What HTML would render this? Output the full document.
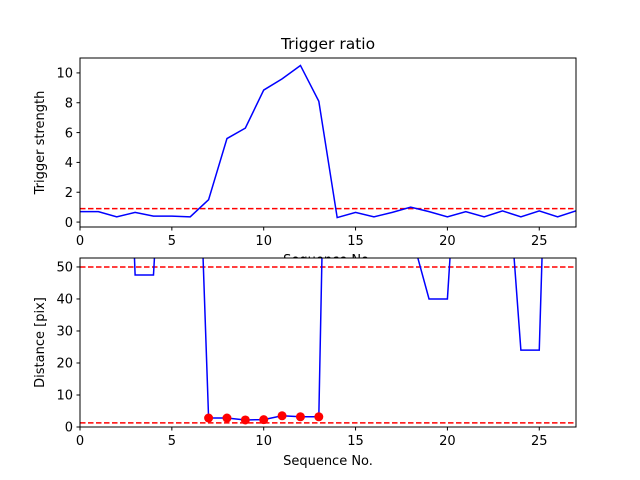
<!DOCTYPE html>
<html><head><meta charset="utf-8"><style>
body{margin:0;background:#fff}
svg{display:block;font-family:"DejaVu Sans","Liberation Sans",sans-serif}
</style></head><body>
<svg id="c" width="640" height="480"></svg>
<script>
const seqTop = [0,1,2,3,4,5,6,7,8,9,10,11,12,13,14,15,16,17,18,19,20,21,22,23,24,25,26,27];
const strength = [0.7,0.7,0.35,0.65,0.4,0.4,0.35,1.5,5.6,6.3,8.85,9.6,10.5,8.1,0.3,0.65,0.35,0.65,1.0,0.7,0.35,0.7,0.35,0.75,0.35,0.75,0.35,0.75];
const distance = [120,120,200,47.5,47.5,150,169,2.8,2.8,2.2,2.3,3.5,3.2,3.2,295,200,200,150,61,40,40,131,120,102,24,24,216,200];
const dotSeq = [7,8,9,10,11,12,13];
const dotVal = [2.8,2.8,2.2,2.3,3.5,3.2,3.2];
const topTicks = [0,2,4,6,8,10];
const botTicks = [0,10,20,30,40,50];
const xTicks = [0,5,10,15,20,25];
const topThreshold = 0.9;
const botThresholds = [50,1.3];

const NS="http://www.w3.org/2000/svg";
const svg=document.getElementById('c');
function el(t,a,p){const e=document.createElementNS(NS,t);for(const k in a)e.setAttribute(k,a[k]);(p||svg).appendChild(e);return e;}
const L=80,R=576;
const xs=v=>L+(v-0)/(27-0)*(R-L);

function panel(name,top,bot,ymin,ymax,yt,ylabel,drawFn,xlOff){
  const ys=v=>bot-(v-ymin)/(ymax-ymin)*(bot-top);
  const g=el('g',{});
  
  
  el('rect',{x:L,y:top,width:R-L,height:bot-top,fill:'#fff'},g);
  const cid='clip-'+name;
  const cp=el('clipPath',{id:cid},g);el('rect',{x:L,y:top,width:R-L,height:bot-top},cp);
  const pg=el('g',{'clip-path':'url(#'+cid+')'},g);
  drawFn(pg,ys);
  el('rect',{x:L,y:top,width:R-L,height:bot-top,fill:'none',stroke:'#000','stroke-width':1},g);
  xTicks.forEach(t=>{const x=xs(t);el('line',{x1:x,x2:x,y1:bot,y2:bot+3.5,stroke:'#000'},g);
    const tx=el('text',{x:x,y:bot+18,'font-size':13,'text-anchor':'middle'},g);tx.textContent=t;
    });
  yt.forEach(t=>{const y=ys(t);el('line',{x1:L-3.5,x2:L,y1:y,y2:y,stroke:'#000'},g);
    const tx=el('text',{x:L-7,y:y+4.7,'font-size':13,'text-anchor':'end'},g);tx.textContent=t;
    });
  const yl=el('text',{x:0,y:0,'font-size':13,'text-anchor':'middle',transform:`translate(44,${(top+bot)/2}) rotate(-90)`},g);
  yl.textContent=ylabel;
  const xl=el('text',{x:(L+R)/2,y:bot+xlOff,'font-size':13,'text-anchor':'middle'},g);
  xl.textContent='Sequence No.';
}

const title=el('text',{x:328,y:49,'font-size':15.5,'text-anchor':'middle'});
title.textContent='Trigger ratio';



panel('top',58,227,-0.33,11.0,topTicks,'Trigger strength',(g,ys)=>{
  const y=ys(topThreshold);
  const th=el('line',{x1:L,x2:R,y1:y,y2:y,stroke:'#f00','stroke-width':1.5,'stroke-dasharray':'5.5,2.5'},g);
  
  const ln=el('polyline',{points:seqTop.map((s,i)=>xs(s)+','+ys(strength[i])).join(' '),fill:'none',stroke:'#00f','stroke-width':1.5},g);
  
},37);
panel('bottom',258,427,0,52.8,botTicks,'Distance [pix]',(g,ys)=>{
  botThresholds.forEach(v=>{const y=ys(v);
    const th=el('line',{x1:L,x2:R,y1:y,y2:y,stroke:'#f00','stroke-width':1.5,'stroke-dasharray':'5.5,2.5'},g);
    });
  const ln=el('polyline',{points:seqTop.map((s,i)=>xs(s)+','+ys(distance[i])).join(' '),fill:'none',stroke:'#00f','stroke-width':1.5},g);
  
  dotSeq.forEach((s,i)=>{const c=el('circle',{cx:xs(s),cy:ys(dotVal[i]),r:4.5,fill:'#f00'},g);
    });
},38);
</script>
</body></html>
